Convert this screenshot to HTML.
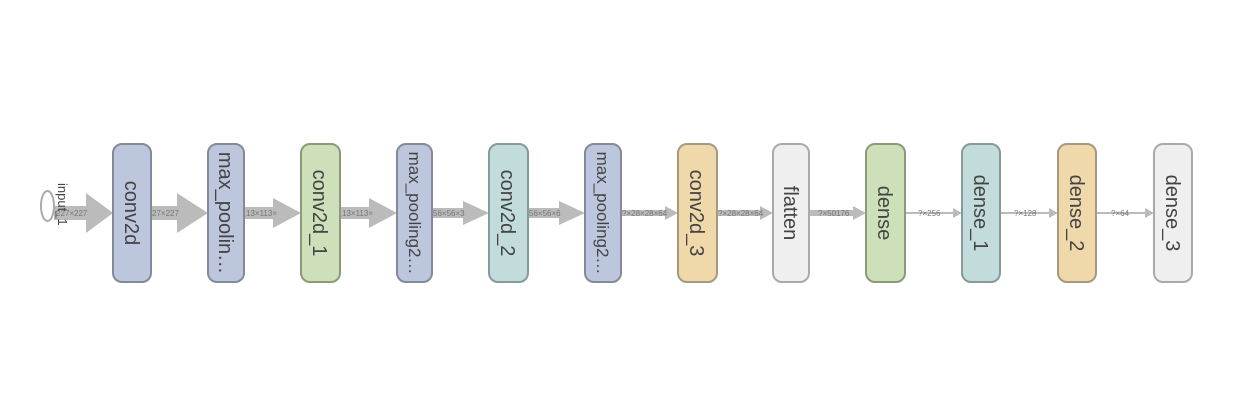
<!DOCTYPE html>
<html><head><meta charset="utf-8"><style>
html,body{margin:0;padding:0;background:#fff;width:1250px;height:420px;overflow:hidden}
text{font-family:"Liberation Sans",sans-serif}
.n{font-size:20px;fill:#444}
.e{font-size:8px;fill:#777}
</style></head><body>
<svg width="1250" height="420" xmlns="http://www.w3.org/2000/svg">
<g fill="#bbb">
<polygon points="54,206 86,206 86,193 113,213 86,233 86,220 54,220"/>
<polygon points="151,206 177,206 177,193 208,213 177,233 177,220 151,220"/>
<polygon points="244,207 273,207 273,198 301,213 273,228 273,219 244,219"/>
<polygon points="340,207 369,207 369,198 397,213 369,228 369,219 340,219"/>
<polygon points="432,208 463,208 463,201 489,213 463,225 463,218 432,218"/>
<polygon points="528,208 559,208 559,201 585,213 559,225 559,218 528,218"/>
<polygon points="621,210 665,210 665,206 678,213 665,220 665,216 621,216"/>
<polygon points="717,210 760,210 760,206 773,213 760,220 760,216 717,216"/>
<polygon points="809,210 853,210 853,206 866,213 853,220 853,216 809,216"/>
<polygon points="905,212 953,212 953,208 962,213 953,218 953,214 905,214"/>
<polygon points="1000,212 1049,212 1049,208 1058,213 1049,218 1049,214 1000,214"/>
<polygon points="1096,212 1145,212 1145,208 1154,213 1145,218 1145,214 1096,214"/>
</g>
<g class="e">
<text x="56" y="216">227×227</text>
<text x="152" y="216">27×227</text>
<text x="246" y="216">13×113×</text>
<text x="342" y="216">13×113×</text>
<text x="433" y="216">56×56×3</text>
<text x="529" y="216">56×56×6</text>
<text x="622" y="216">?×28×28×64</text>
<text x="718" y="216">?×28×28×64</text>
<text x="818" y="216">?×50176</text>
<text x="918" y="216">?×256</text>
<text x="1014" y="216">?×128</text>
<text x="1111" y="216">?×64</text>
</g>
<ellipse cx="47.5" cy="206" rx="6.5" ry="15" fill="none" stroke="#aaa" stroke-width="2"/>
<text x="0" y="0" font-size="13" fill="#444" transform="translate(58,183) rotate(90)">input_1</text>
<g stroke-width="2">
<rect x="113" y="144" width="38" height="138" rx="9" fill="#bcc6dc" stroke="#858a99"/>
<rect x="208" y="144" width="36" height="138" rx="9" fill="#bcc6dc" stroke="#858a99"/>
<rect x="301" y="144" width="39" height="138" rx="9" fill="#cde0b9" stroke="#8a9a7a"/>
<rect x="397" y="144" width="35" height="138" rx="9" fill="#bcc6dc" stroke="#858a99"/>
<rect x="489" y="144" width="39" height="138" rx="9" fill="#c1dcdb" stroke="#859a99"/>
<rect x="585" y="144" width="36" height="138" rx="9" fill="#bcc6dc" stroke="#858a99"/>
<rect x="678" y="144" width="39" height="138" rx="9" fill="#efd9aa" stroke="#a59a80"/>
<rect x="773" y="144" width="36" height="138" rx="9" fill="#efefef" stroke="#aaa"/>
<rect x="866" y="144" width="39" height="138" rx="9" fill="#cde0b9" stroke="#8a9a7a"/>
<rect x="962" y="144" width="38" height="138" rx="9" fill="#c1dcdb" stroke="#859a99"/>
<rect x="1058" y="144" width="38" height="138" rx="9" fill="#efd9aa" stroke="#a59a80"/>
<rect x="1154" y="144" width="38" height="138" rx="9" fill="#efefef" stroke="#aaa"/>
</g>
<g class="n" text-anchor="middle">
<text transform="translate(125,213) rotate(90)">conv2d</text>
<text transform="translate(219,213) rotate(90)">max_poolin…</text>
<text transform="translate(313,213) rotate(90)">conv2d_1</text>
<text font-size="17" transform="translate(409,213) rotate(90)">max_pooling2…</text>
<text transform="translate(501,213) rotate(90)">conv2d_2</text>
<text font-size="17" transform="translate(597,213) rotate(90)">max_pooling2…</text>
<text transform="translate(690,213) rotate(90)">conv2d_3</text>
<text transform="translate(784,213) rotate(90)">flatten</text>
<text transform="translate(878,213) rotate(90)">dense</text>
<text transform="translate(974,213) rotate(90)">dense_1</text>
<text transform="translate(1070,213) rotate(90)">dense_2</text>
<text transform="translate(1166,213) rotate(90)">dense_3</text>
</g>
</svg>
</body></html>
